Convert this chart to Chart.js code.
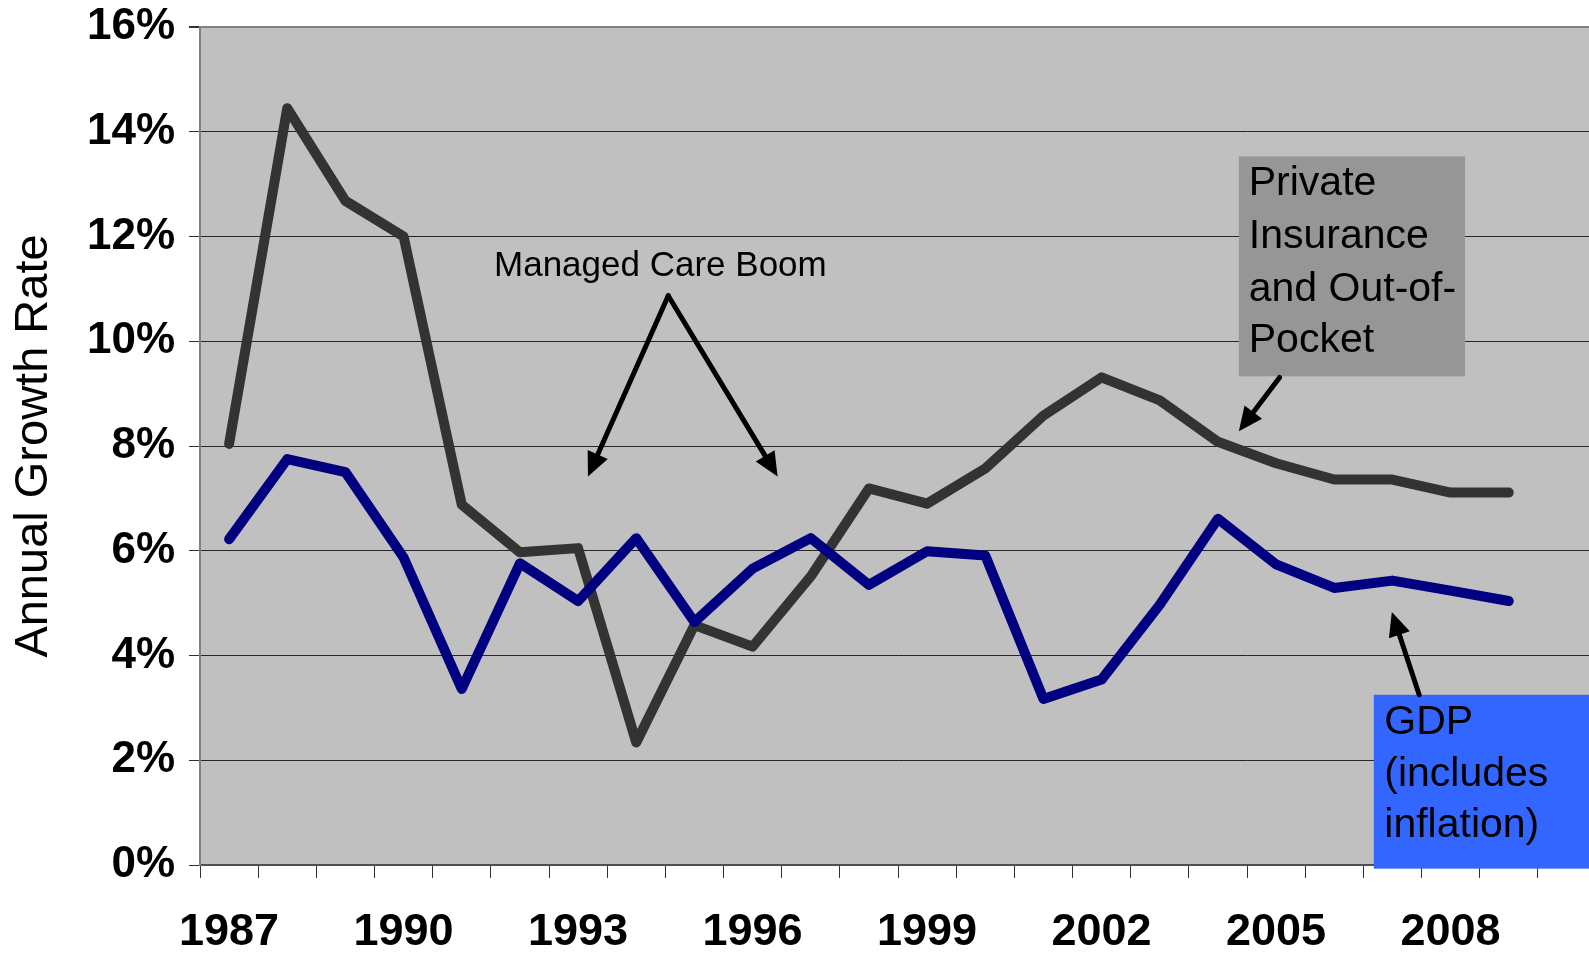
<!DOCTYPE html>
<html>
<head>
<meta charset="utf-8">
<script src="https://cdn.jsdelivr.net/npm/chart.js@4.4.1/dist/chart.umd.min.js"></script>
<style>
  html, body { margin: 0; padding: 0; background: #fff; overflow: hidden; }
  #growthChart { display: block; }
</style>
</head>
<body>
<canvas id="growthChart" width="1596" height="953"></canvas>
<script>
// years on the category axis (2010 slot is empty, like the original sheet)
const years = ['1987','1988','1989','1990','1991','1992','1993','1994','1995','1996','1997','1998',
               '1999','2000','2001','2002','2003','2004','2005','2006','2007','2008','2009','2010'];

// annual growth, percent
const privateGrowth = [8.04, 14.45, 12.68, 12.0, 6.88, 5.97, 6.05, 2.34, 4.58, 4.17, 5.51, 7.19,
                       6.90, 7.57, 8.58, 9.31, 8.87, 8.08, 7.67, 7.36, 7.36, 7.11, 7.11, null];
const gdpGrowth = [6.22, 7.75, 7.50, 5.87, 3.36, 5.76, 5.04, 6.24, 4.64, 5.66, 6.24, 5.35,
                   5.99, 5.91, 3.17, 3.54, 4.97, 6.61, 5.74, 5.29, 5.43, 5.24, 5.04, null];

const yMin = 0, yMax = 16, yStep = 2;
const labelEvery = 3;

const FONT = '"Liberation Sans", Arial, sans-serif';

document.addEventListener('DOMContentLoaded', function() {
    const ctx = document.getElementById('growthChart').getContext('2d');

    const plotBg = {
        id: 'plotBg',
        beforeDraw(chart) {
            const c = chart.ctx, a = chart.chartArea;
            c.save();
            c.fillStyle = '#ffffff';
            c.fillRect(0, 0, chart.width, chart.height);
            c.fillStyle = '#c0c0c0';
            c.fillRect(a.left, a.top, a.right - a.left, a.bottom - a.top);
            c.restore();
        }
    };

    function arrow(c, x1, y1, x2, y2) {
        const ang = Math.atan2(y2 - y1, x2 - x1);
        const len = 24, half = 11;
        const bx = x2 - len * Math.cos(ang), by = y2 - len * Math.sin(ang);
        c.beginPath();
        c.moveTo(x1, y1);
        c.lineTo(bx, by);
        c.stroke();
        c.beginPath();
        c.moveTo(x2, y2);
        c.lineTo(bx + half * Math.sin(ang), by - half * Math.cos(ang));
        c.lineTo(bx - half * Math.sin(ang), by + half * Math.cos(ang));
        c.closePath();
        c.fill();
    }

    // text boxes and arrows, placed in data space (category index, percent)
    const notes = {
        id: 'notes',
        afterDraw(chart) {
            const c = chart.ctx;
            const xs = chart.scales.x, ys = chart.scales.y;
            const px = v => xs.getPixelForValue(v);
            const py = v => ys.getPixelForValue(v);
            c.save();

            // private insurance box
            c.fillStyle = '#969696';
            c.fillRect(px(17.36), py(13.53), px(21.25) - px(17.36), py(9.33) - py(13.53));
            // gdp box
            c.fillStyle = '#3366ff';
            c.fillRect(px(19.68), py(3.25), chart.width - px(19.68), py(-0.07) - py(3.25));

            c.fillStyle = '#000';
            c.textBaseline = 'middle';
            c.textAlign = 'left';
            c.font = '35px ' + FONT;
            c.fillText('Managed Care Boom', px(4.555), py(11.43));

            c.font = '41px ' + FONT;
            ['Private', 'Insurance', 'and Out-of-', 'Pocket'].forEach((t, i) => {
                c.fillText(t, px(17.53), py([13.01, 12.0, 10.99, 10.02][i]));
            });
            ['GDP', '(includes', 'inflation)'].forEach((t, i) => {
                c.fillText(t, px(19.86), py([2.72, 1.72, 0.75][i]));
            });

            c.strokeStyle = '#000';
            c.lineWidth = 5;
            c.lineCap = 'round';
            arrow(c, px(7.55), py(10.87), px(6.17), py(7.42));
            arrow(c, px(7.55), py(10.87), px(9.43), py(7.42));
            arrow(c, px(18.06), py(9.31), px(17.36), py(8.28));
            arrow(c, px(20.46), py(3.25), px(19.99), py(4.83));
            c.restore();
        }
    };

    new Chart(ctx, {
        type: 'line',
        data: {
            labels: years,
            datasets: [{
                label: 'Private Insurance and Out-of-Pocket',
                data: privateGrowth,
                borderColor: '#333333',
                borderWidth: 10,
                order: 1
            }, {
                label: 'GDP',
                data: gdpGrowth,
                borderColor: '#000080',
                borderWidth: 10,
                order: 0
            }]
        },
        options: {
            responsive: false,
            animation: false,
            devicePixelRatio: 1,
            layout: { padding: { top: 27, right: 0, bottom: 0, left: 0 } },
            elements: {
                point: { radius: 0 },
                line: { tension: 0, borderCapStyle: 'round', borderJoinStyle: 'round' }
            },
            plugins: { legend: { display: false }, tooltip: { enabled: false } },
            scales: {
                x: {
                    offset: true,
                    afterFit: s => { s.height = 88; },
                    grid: {
                        offset: true,
                        drawOnChartArea: false,
                        drawTicks: true,
                        tickLength: 13,
                        color: '#333333'
                    },
                    border: { display: true, color: '#505050', width: 2 },
                    ticks: {
                        autoSkip: false,
                        maxRotation: 0,
                        padding: 28,
                        color: '#000',
                        font: { family: FONT, size: 45, weight: 'bold' },
                        callback: (v, i) => i % labelEvery === 0 ? years[i] : ''
                    }
                },
                y: {
                    min: yMin,
                    max: yMax,
                    afterFit: s => { s.width = 200; },
                    grid: {
                        color: c => c.tick.value === yMax ? '#808080' : '#262626',
                        lineWidth: c => c.tick.value === yMax ? 2 : 1,
                        tickColor: '#333333',
                        tickLength: 11
                    },
                    border: { display: true, color: '#808080', width: 2 },
                    ticks: {
                        stepSize: yStep,
                        padding: 14,
                        color: '#000',
                        font: { family: FONT, size: 44, weight: 'bold', lineHeight: 0.5 },
                        callback: v => v + '%'
                    },
                    title: {
                        display: true,
                        text: 'Annual Growth Rate',
                        color: '#000',
                        padding: { top: 6, bottom: 0 },
                        font: { family: FONT, size: 47 }
                    }
                }
            }
        },
        plugins: [plotBg, notes]
    });
});
</script>
</body>
</html>
